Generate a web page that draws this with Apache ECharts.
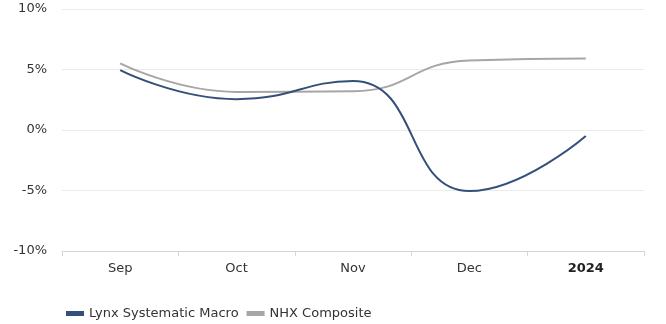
<!DOCTYPE html>
<html>
<head>
<meta charset="utf-8">
<script src="https://cdn.jsdelivr.net/npm/echarts@6/dist/echarts.min.js"></script>
<style>
html,body{margin:0;padding:0;background:#fff;}
#chart{width:666px;height:324px;}
</style>
</head>
<body>
<div id="chart"></div>
<script>
// Monthly return path, in percent
const categories = ['Sep', 'Oct', 'Nov', 'Dec', '2024'];
const lynxMacro = [4.95, 2.55, 4.05, -5.05, -0.5];
const nhxComposite = [5.5, 3.15, 3.2, 5.75, 5.9];
const yTicks = { min: -10, max: 10, step: 5 };

const chart = echarts.init(document.getElementById('chart'), null, { renderer: 'canvas' });
const font = 'DejaVu Sans, Verdana, sans-serif';

chart.setOption({
  animation: false,
  textStyle: { fontFamily: font },
  grid: { left: 62, right: 22, top: 9, bottom: 73 },
  legend: {
    left: 61,
    top: 302,
    itemWidth: 18,
    itemHeight: 5,
    itemGap: 8,
    icon: 'rect',
    textStyle: { fontFamily: font, fontSize: 13, color: '#333' },
    data: ['Lynx Systematic Macro', 'NHX Composite']
  },
  xAxis: {
    type: 'category',
    data: categories,
    boundaryGap: true,
    axisLine: { onZero: false, lineStyle: { color: '#d6d6d6', width: 1 } },
    axisTick: { show: true, length: 5, lineStyle: { color: '#d6d6d6' } },
    axisLabel: {
      fontFamily: font,
      fontSize: 13,
      color: '#333',
      margin: 11,
      formatter: v => v === '2024' ? '{b|' + v + '}' : v,
      rich: { b: { fontWeight: 'bold', fontFamily: font, fontSize: 13, color: '#222' } }
    },
    splitLine: { show: false }
  },
  yAxis: {
    type: 'value',
    min: yTicks.min,
    max: yTicks.max,
    interval: yTicks.step,
    axisLine: { show: false },
    axisTick: { show: false },
    axisLabel: {
      fontFamily: font,
      fontSize: 13,
      color: '#333',
      margin: 15,
      formatter: v => v + '%'
    },
    splitLine: { lineStyle: { color: '#ebebeb', width: 1 } }
  },
  series: [
    {
      name: 'Lynx Systematic Macro',
      type: 'line',
      data: lynxMacro,
      smooth: 0.5,
      symbol: 'none',
      lineStyle: { color: '#34507a', width: 2 },
      itemStyle: { color: '#34507a' },
      z: 3
    },
    {
      name: 'NHX Composite',
      type: 'line',
      data: nhxComposite,
      smooth: 0.5,
      symbol: 'none',
      lineStyle: { color: '#a6a6a6', width: 2 },
      itemStyle: { color: '#a6a6a6' },
      z: 2
    }
  ]
});
</script>
</body>
</html>
